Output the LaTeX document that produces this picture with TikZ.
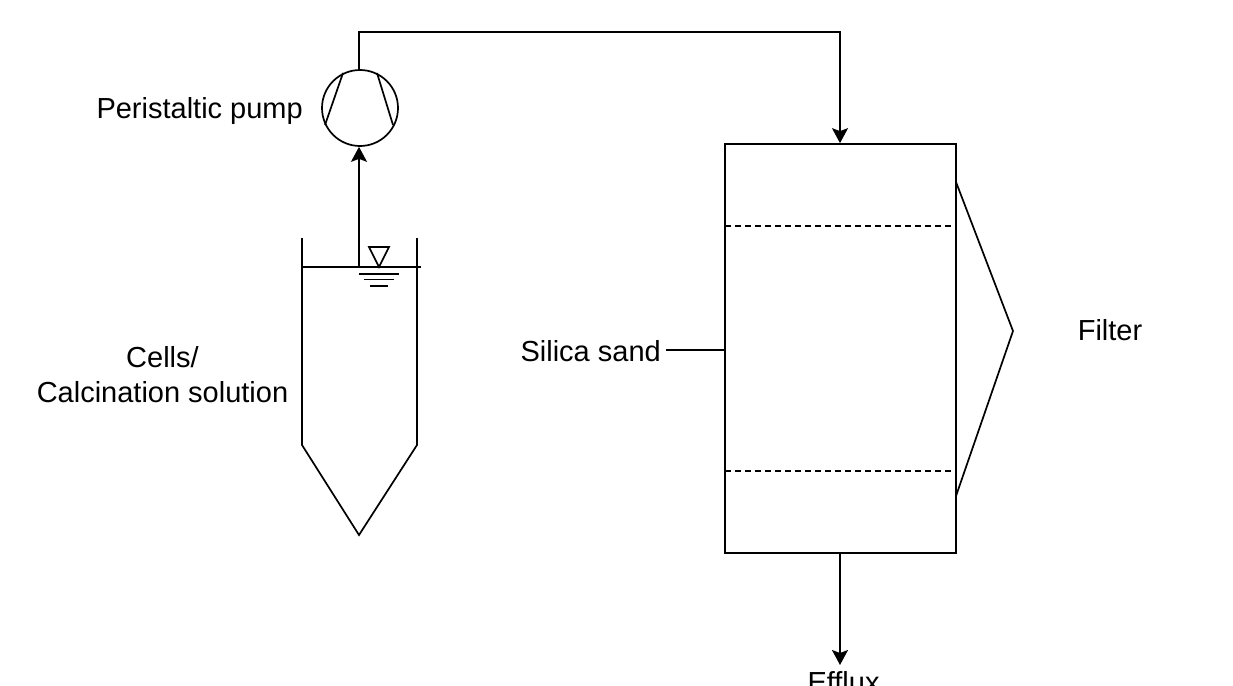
\documentclass[tikz,border=0pt]{standalone}
\usepackage{fontspec}
\setmainfont{Liberation Sans}
\usetikzlibrary{arrows.meta}
\tikzset{
  ln/.style={draw=black,line width=1.7pt},
  tip/.style={-{Stealth[length=15pt,width=16pt,inset=3pt]}},
  lbl/.style={font=\fontsize{29}{35}\selectfont,text=black,inner sep=0pt,align=center},
  dashln/.style={draw=black,line width=1.6pt,dash pattern=on 6pt off 4pt},
  thinln/.style={draw=black,line width=1.3pt}
}
\begin{document}
\begin{tikzpicture}[x=1pt,y=-1pt]
\clip (0,0) rectangle (1233,685);
\fill[white] (0,0) rectangle (1233,685);
% pump
\node[ln,circle,minimum size=76pt,inner sep=0pt] (pump) at (360,108) {};
\coordinate (pl1) at (343,73); \coordinate (pl2) at (325,125);
\coordinate (pr1) at (377,73); \coordinate (pr2) at (393,125);
\draw[ln] (pl1) -- (pl2);
\draw[ln] (pr1) -- (pr2);
% column
\node[ln,rectangle,minimum width=231pt,minimum height=409pt,inner sep=0pt] (column) at (840.5,348.5) {};
\coordinate (dt1) at (725,226); \coordinate (dt2) at (956,226);
\coordinate (db1) at (725,471); \coordinate (db2) at (956,471);
\draw[dashln] (dt1) -- (dt2);
\draw[dashln] (db1) -- (db2);
\coordinate (f1) at (956,182); \coordinate (f2) at (1013,331); \coordinate (f3) at (956,496);
\draw[ln] (f1) -- (f2) -- (f3);
% tank
\coordinate (t1) at (302,238); \coordinate (t2) at (302,445); \coordinate (t3) at (359,535);
\coordinate (t4) at (417,445); \coordinate (t5) at (417,238);
\draw[ln,line join=miter] (t1) -- (t2) -- (t3) -- (t4) -- (t5);
\coordinate (liqL) at (302,267); \coordinate (liqR) at (421,267);
\coordinate (inlet) at (359,267);
\draw[ln] (liqL) -- (liqR);
\coordinate (w1) at (369,247); \coordinate (w2) at (389,247); \coordinate (w3) at (379,267);
\draw[ln] (w1) -- (w2) -- (w3) -- cycle;
\coordinate (a1) at (359,274); \coordinate (a2) at (399,274);
\coordinate (b1) at (364,279.5); \coordinate (b2) at (394,279.5);
\coordinate (c1) at (370,286); \coordinate (c2) at (388,286);
\draw[thinln] (a1) -- (a2);
\draw[thinln] (b1) -- (b2);
\draw[thinln] (c1) -- (c2);
% connectors
\draw[ln,tip] (inlet) -- (pump.south -| inlet);
\coordinate (corner1) at (359,32); \coordinate (corner2) at (840,32);
\draw[ln,tip] (pump.north -| corner1) -- (corner1) -- (corner2) -- (column.north -| corner2);
\coordinate (efflux) at (840,665);
\draw[ln,tip] (column.south -| efflux) -- (efflux);
\coordinate (silica) at (666,350);
\draw[ln] (silica) -- (column.west |- silica);
% labels
\node[lbl,anchor=east] (lpump) at (303,111) {Peristaltic pump};
\node[lbl] (lcells) at (162.5,375) {Cells/\\Calcination solution};
\node[lbl,anchor=east] (lsilica) at (661,351) {Silica sand};
\node[lbl] (lfilter) at (1110,330) {Filter};
\node[lbl,anchor=base] (lefflux) at (843.5,692) {Efflux};
\end{tikzpicture}
\end{document}
